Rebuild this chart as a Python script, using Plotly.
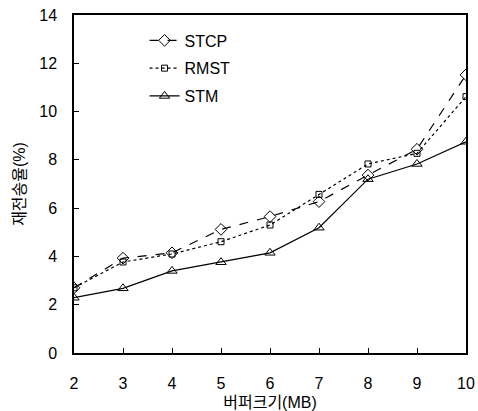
import plotly.graph_objects as go

buffer_mb = [2, 3, 4, 5, 6, 7, 8, 9, 10]
stcp = [2.7, 3.93, 4.15, 5.12, 5.65, 6.27, 7.37, 8.44, 11.52]
rmst = [2.7, 3.77, 4.1, 4.61, 5.3, 6.57, 7.83, 8.27, 10.62]
stm = [2.29, 2.68, 3.4, 3.76, 4.15, 5.19, 7.2, 7.83, 8.75]

FONT = "Liberation Sans, Arial, Noto Sans CJK KR"

fig = go.Figure()
fig.add_trace(go.Scatter(x=buffer_mb, y=stcp, name="STCP", mode="lines+markers",
    line=dict(color="black", width=1.2, dash="dash"),
    marker=dict(symbol="diamond-open", size=9, color="black", line=dict(width=1)),
    legendgroup="a"))
fig.add_trace(go.Scatter(x=buffer_mb, y=rmst, name="RMST", mode="lines+markers",
    line=dict(color="black", width=1.2, dash="dot"),
    marker=dict(symbol="square-open", size=6, color="black", line=dict(width=1)),
    legendgroup="b"))
fig.add_trace(go.Scatter(x=buffer_mb, y=stm, name="STM", mode="lines+markers",
    line=dict(color="black", width=1.2),
    marker=dict(symbol="triangle-up-open", size=9, color="black", line=dict(width=1)),
    legendgroup="c"))

fig.update_layout(
    width=478, height=411,
    margin=dict(l=74, r=12, t=15, b=58, autoexpand=False),
    plot_bgcolor="white", paper_bgcolor="white",
    font=dict(family=FONT, size=16, color="black"),
    showlegend=True,
    legend=dict(x=0.18, y=0.975, xanchor="left", yanchor="top",
                bgcolor="rgba(0,0,0,0)", tracegroupgap=4,
                font=dict(size=16, family=FONT)),
    xaxis=dict(range=[2, 10], tickvals=buffer_mb, ticks="inside", ticklen=5,
               tickcolor="black", showgrid=False, zeroline=False, automargin=False,
               showline=True, linecolor="black", linewidth=1.5, mirror=True,
               ticklabelstandoff=15,
               title=dict(text="버퍼크기(MB)", font=dict(size=16), standoff=8)),
    yaxis=dict(range=[0, 14], tickvals=[0, 2, 4, 6, 8, 10, 12, 14], ticks="inside",
               ticklen=5, tickcolor="black", showgrid=False, zeroline=False,
               automargin=False,
               showline=True, linecolor="black", linewidth=1.5, mirror=True,
               ticklabelstandoff=12,
               title=dict(text="재전송율(%)", font=dict(size=16), standoff=10)),
)

fig.write_html("out.html")
